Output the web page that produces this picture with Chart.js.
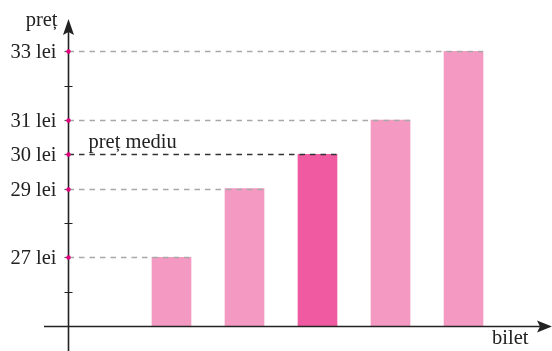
<!DOCTYPE html>
<html>
<head>
<meta charset="utf-8">
<script src="https://cdn.jsdelivr.net/npm/chart.js@4"></script>
<style>
  body { margin: 0; background: #fff; }
  #wrap { width: 552px; height: 351px; }
</style>
</head>
<body>
<div id="wrap"><canvas id="chart"></canvas></div>
<script>
// ── Data ─────────────────────────────────────────────────────────
const tickets      = ['bilet 1', 'bilet 2', 'bilet 3', 'bilet 4', 'bilet 5'];
const prices       = [27, 29, 30, 31, 33];
const avgPrice     = 30;
const labelTicks   = [27, 29, 30, 31, 33];
const minorTicks   = [26, 28, 32];
const axisBase     = 25;

// ── Styles ───────────────────────────────────────────────────────
const LIGHT = '#f49ac2';
const DARK  = '#ef5aa1';
const FONT  = '"Liberation Serif", "DejaVu Serif", serif';
const FONT_SIZE = 20.5;

const barColors = prices.map(p => p === avgPrice ? DARK : LIGHT);

/** Axes, arrows, tick marks, dashed guides and texts. */
const axesPlugin = {
  id: 'axes',
  afterDatasetsDraw(chart) {
    const { ctx, scales: { x, y } } = chart;
    const ax = Math.round(x.getPixelForValue(x.options.axisAt)) + 0.5;
    const ay = Math.round(y.getPixelForValue(axisBase)) + 0.5;
    ctx.save();

    // dashed guides from y axis to right edge of each bar
    const meta = chart.getDatasetMeta(0);
    prices.forEach((p, i) => {
      const bar = meta.data[i];
      const py = Math.round(y.getPixelForValue(p)) + 0.5;
      ctx.beginPath();
      ctx.setLineDash([5.5, 5]);
      ctx.lineWidth = 1.4;
      ctx.strokeStyle = p === avgPrice ? '#333' : '#a8a8a8';
      ctx.moveTo(ax, py);
      ctx.lineTo(bar.x + bar.width / 2, py);
      ctx.stroke();
    });
    ctx.setLineDash([]);

    // axis lines
    ctx.strokeStyle = '#222';
    ctx.fillStyle = '#222';
    ctx.lineWidth = 1.6;
    ctx.beginPath();
    ctx.moveTo(ax, chart.height);
    ctx.lineTo(ax, 30);
    ctx.moveTo(44, ay);
    ctx.lineTo(542, ay);
    ctx.stroke();

    // arrow heads
    ctx.beginPath();
    ctx.moveTo(ax, 19); ctx.lineTo(ax - 5.5, 35); ctx.lineTo(ax, 32); ctx.lineTo(ax + 5.5, 35);
    ctx.closePath(); ctx.fill();
    ctx.beginPath();
    ctx.moveTo(552, ay); ctx.lineTo(537, ay - 6); ctx.lineTo(540, ay); ctx.lineTo(537, ay + 6);
    ctx.closePath(); ctx.fill();

    // minor ticks
    ctx.lineWidth = 1.2;
    ctx.beginPath();
    minorTicks.forEach(v => {
      const py = Math.round(y.getPixelForValue(v)) + 0.5;
      ctx.moveTo(ax - 4, py); ctx.lineTo(ax + 4, py);
    });
    ctx.stroke();

    // labelled ticks: small dash left of axis + magenta dot
    ctx.font = FONT_SIZE + 'px ' + FONT;
    labelTicks.forEach(v => {
      const py = Math.round(y.getPixelForValue(v)) + 0.5;
      ctx.strokeStyle = '#555';
      ctx.beginPath(); ctx.moveTo(ax - 4, py); ctx.lineTo(ax, py); ctx.stroke();
      ctx.fillStyle = '#e6007e';
      ctx.beginPath(); ctx.arc(ax, py, 2.2, 0, Math.PI * 2); ctx.fill();
      ctx.fillStyle = '#222';
      ctx.textAlign = 'right';
      ctx.textBaseline = 'middle';
      ctx.fillText(v + ' lei', ax - 12, py + 1);
    });

    // axis titles and average label
    ctx.fillStyle = '#222';
    ctx.textBaseline = 'alphabetic';
    ctx.textAlign = 'right';
    ctx.fillText('preț', ax - 11, 26);
    ctx.textAlign = 'left';
    ctx.fillText('bilet', 492, 344);
    ctx.fillText('preț mediu', ax + 20, y.getPixelForValue(avgPrice) - 6);

    ctx.restore();
  }
};

new Chart(document.getElementById('chart'), {
  type: 'bar',
  data: {
    datasets: [{
      label: 'preț',
      data: prices.map((p, i) => ({ x: i + 1, y: p })),
      backgroundColor: barColors,
      borderWidth: 0,
      barThickness: 39,
      base: axisBase,
    }],
  },
  options: {
    responsive: true,
    maintainAspectRatio: false,
    animation: false,
    layout: { padding: 0 },
    plugins: { legend: { display: false }, tooltip: { enabled: false } },
    scales: {
      x: { type: 'linear', display: false, offset: false, min: -1.349, max: 6.212, axisAt: -0.418 },
      y: { type: 'linear', display: false, min: 24.272, max: 34.496 },
    },
  },
  plugins: [axesPlugin],
});
</script>
</body>
</html>
